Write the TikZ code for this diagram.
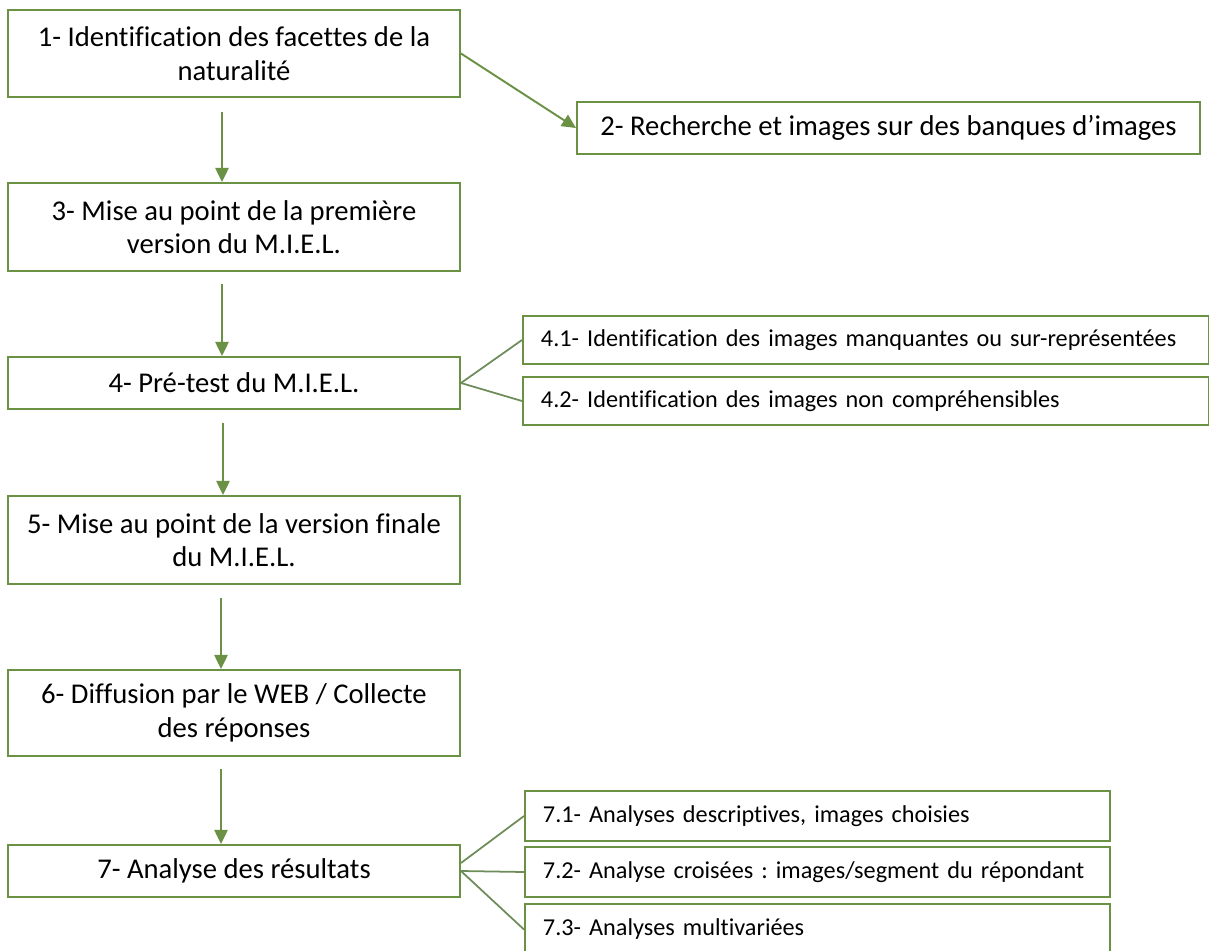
\documentclass[tikz,border=0pt]{standalone}
\usepackage{fontspec}
\setmainfont{Carlito}[Ligatures=NoCommon]
\usetikzlibrary{arrows.meta,positioning}
\definecolor{boxgreen}{RGB}{106,145,68}
\definecolor{linkgreen}{RGB}{110,140,90}
\frenchspacing

\begin{document}
\begin{tikzpicture}[
    x=1cm, y=1cm,
    stage/.style={rectangle, draw=boxgreen, line width=1.1pt, minimum width=9.04cm, align=center, font=\fontsize{16.3}{19}\selectfont},
    task/.style={rectangle, draw=boxgreen, line width=1.1pt, align=left, anchor=west, inner xsep=0.36cm, font=\fontsize{13.8}{17}\selectfont},
    flow/.style={-{Triangle[length=8pt, width=7.5pt]}, draw=boxgreen, line width=1.1pt},
    link/.style={draw=linkgreen, line width=1pt}
]
\useasboundingbox (0,0) rectangle (24.18,-19.02);

% === MAIN STAGES (left) ===
\node[stage, minimum height=1.74cm] (s1) at (4.68,-1.07) {1- Identification des facettes de la\\naturalité};
\node[stage, minimum height=1.76cm] (s3) at (4.68,-4.54) {3- Mise au point de la première\\version du M.I.E.L.};
\node[stage, minimum height=1.04cm] (s4) at (4.68,-7.66) {4- Pré-test du M.I.E.L.};
\node[stage, minimum height=1.76cm] (s5) at (4.68,-10.80) {5- Mise au point de la version finale\\du M.I.E.L.};
\node[stage, minimum height=1.72cm] (s6) at (4.68,-14.26) {6- Diffusion par le WEB / Collecte\\des réponses};
\node[stage, minimum height=1.04cm] (s7) at (4.68,-17.42) {7- Analyse des résultats};

% === SIDE TASKS (right) ===
\node[stage, minimum width=12.46cm, minimum height=1.04cm] (s2) at (17.77,-2.56) {2- Recherche et images sur des banques d’images};

\node[task, text width=13.0cm, minimum height=0.96cm] (t41) at (10.44,-6.80) {\mbox{4.1- Identification des images manquantes ou sur-représentées}};
\node[task, text width=13.0cm, minimum height=0.96cm] (t42) at (10.44,-8.02) {\mbox{4.2- Identification des images non compréhensibles}};

\node[task, text width=10.98cm, minimum height=1.00cm] (t71) at (10.48,-16.32) {\mbox{7.1- Analyses descriptives, images choisies}};
\node[task, text width=10.98cm, minimum height=1.00cm] (t72) at (10.48,-17.44) {\mbox{7.2- Analyse croisées : images/segment du répondant}};
\node[task, text width=10.98cm, minimum height=1.02cm] (t73) at (10.48,-18.59) {\mbox{7.3- Analyses multivariées}};

% Arrows down the main column
\draw[flow] ([xshift=-0.24cm, yshift=-0.28cm]s1.south) -- ([xshift=-0.24cm]s3.north);
\draw[flow] ([xshift=-0.24cm, yshift=-0.24cm]s3.south) -- ([xshift=-0.24cm]s4.north);
\draw[flow] ([xshift=-0.22cm, yshift=-0.26cm]s4.south) -- ([xshift=-0.22cm]s5.north);
\draw[flow] ([xshift=-0.26cm, yshift=-0.26cm]s5.south) -- ([xshift=-0.26cm]s6.north);
\draw[flow] ([xshift=-0.26cm, yshift=-0.24cm]s6.south) -- ([xshift=-0.26cm]s7.north);

% Side connections
\draw[flow] (s1.east) -- (s2.west);
\draw[link] (s4.east) -- (t41.west);
\draw[link] (s4.east) -- (t42.west);
\draw[link] ([yshift=0.16cm]s7.east) -- (t71.west);
\draw[link] (s7.east) -- (t72.west);
\draw[link] (s7.east) -- (t73.west);

\end{tikzpicture}
\end{document}
